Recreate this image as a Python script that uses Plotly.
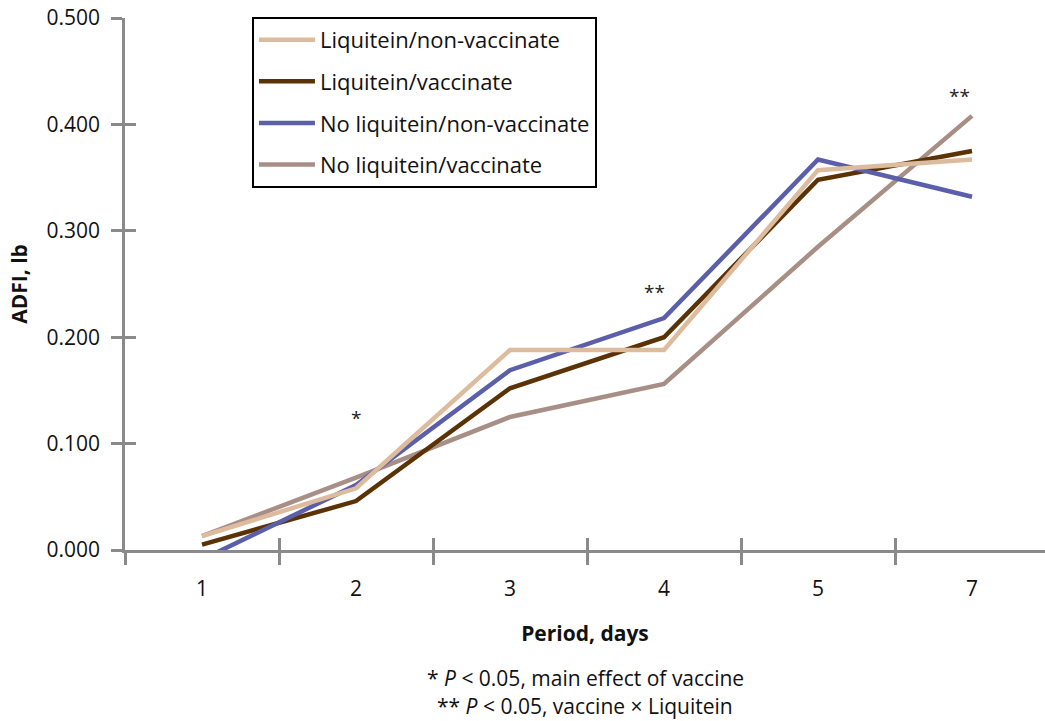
import plotly.graph_objects as go

periods = ["1", "2", "3", "4", "5", "7"]
liq_nonvac = [0.013, 0.058, 0.188, 0.188, 0.357, 0.367]
liq_vac = [0.005, 0.046, 0.152, 0.200, 0.348, 0.375]
noliq_nonvac = [-0.009, 0.061, 0.169, 0.218, 0.367, 0.332]
noliq_vac = [0.013, 0.068, 0.125, 0.156, 0.285, 0.408]
series_names = ["Liquitein/non-vaccinate", "Liquitein/vaccinate",
                "No liquitein/non-vaccinate", "No liquitein/vaccinate"]
series_values = [liq_nonvac, liq_vac, noliq_nonvac, noliq_vac]
colors = ["#DDBB9D", "#5A3206", "#5B5FAA", "#A88F86"]
draw_order = [3, 1, 2, 0]

sig_labels = [("2", 0.124, "*", 0), ("4", 0.2425, "**", -10), ("7", 0.427, "**", -13)]

FONT = "Open Sans"
AX = "#8a8a8a"
FS = 21

fig = go.Figure()
for i in draw_order:
    fig.add_trace(go.Scatter(
        x=periods, y=series_values[i], mode="lines", name=series_names[i],
        line=dict(color=colors[i], width=4.5), legendrank=i + 1,
        legendgroup=f"g{i}", hoverinfo="skip"))

# invisible helper trace for overlay axes (crossing ticks)
fig.add_trace(go.Scatter(x=periods, y=liq_vac, xaxis="x2", yaxis="y2", mode="lines",
                         line=dict(width=0), opacity=0, showlegend=False, hoverinfo="skip"))

for cat, yv, txt, xs in sig_labels:
    fig.add_annotation(x=periods.index(cat), y=yv, text=txt, showarrow=False, xshift=xs,
                       font=dict(family=FONT, size=19, color="#222"))

fig.add_annotation(xref="paper", yref="paper", x=0.5, y=-0.2406, yanchor="middle",
                   text="* <i>P</i> < 0.05, main effect of vaccine", showarrow=False,
                   font=dict(family=FONT, size=FS, color="#111"))
fig.add_annotation(xref="paper", yref="paper", x=0.5, y=-0.293, yanchor="middle",
                   text="** <i>P</i> < 0.05, vaccine × Liquitein", showarrow=False,
                   font=dict(family=FONT, size=FS, color="#111"))

xrange = [-0.5, 5.474]
fig.update_layout(
    width=1045, height=721,
    margin=dict(l=125, r=0, t=18, b=171, autoexpand=False),
    paper_bgcolor="white", plot_bgcolor="white",
    font=dict(family=FONT, size=FS, color="#111"),
    showlegend=True,
    legend=dict(x=0.138, y=1.002, xanchor="left", yanchor="top",
                bordercolor="black", borderwidth=2, bgcolor="white",
                font=dict(family=FONT, size=22, color="#111"),
                tracegroupgap=10, itemwidth=56),
    xaxis=dict(type="category", categoryorder="array", categoryarray=periods,
               range=xrange, showline=True, linecolor=AX, linewidth=2.5,
               ticks="outside", ticklen=12, tickwidth=2.5, tickcolor=AX,
               tickson="boundaries", showgrid=False, zeroline=False,
               ticklabelstandoff=18, automargin=False,
               tickfont=dict(family=FONT, size=FS, color="#111"),
               title=dict(text="<b>Period, days</b>", standoff=26,
                          font=dict(family=FONT, size=FS, color="#111"))),
    yaxis=dict(range=[0, 0.5], tick0=0, dtick=0.1, tickformat=".3f",
               showline=True, linecolor=AX, linewidth=2.5,
               ticks="outside", ticklen=11, tickwidth=2.5, tickcolor=AX,
               showgrid=False, zeroline=False, ticklabelstandoff=7,
               ticklabeloverflow="allow", automargin=False,
               tickfont=dict(family=FONT, size=FS, color="#111"),
               title=dict(text="<b>ADFI, lb</b>", standoff=14,
                          font=dict(family=FONT, size=FS, color="#111"))),
    xaxis2=dict(type="category", categoryorder="array", categoryarray=periods,
                range=xrange, overlaying="x", side="bottom", showline=False,
                ticks="inside", ticklen=12, tickwidth=2.5, tickcolor=AX,
                tickson="boundaries", showticklabels=False, showgrid=False,
                zeroline=False, automargin=False),
    yaxis2=dict(range=[0, 0.5], tick0=0, dtick=0.1, overlaying="y", side="left",
                showline=False, ticks="inside", ticklen=11, tickwidth=2.5,
                tickcolor=AX, showticklabels=False, showgrid=False, zeroline=False,
                automargin=False),
)

fig.write_html("out.html", config={"displayModeBar": False},
               post_script="document.body.style.margin='0';document.body.style.overflow='hidden';")
